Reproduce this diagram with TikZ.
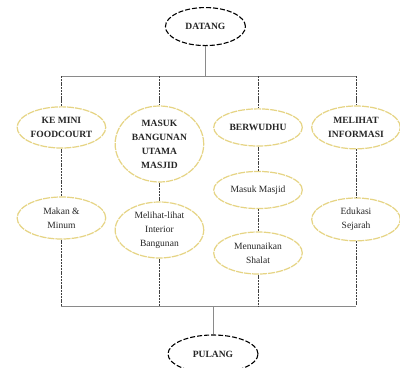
\documentclass[tikz,border=0pt]{standalone}
\usepackage{fontspec}
\setmainfont{Liberation Serif}
\usetikzlibrary{positioning, backgrounds, calc, shapes.geometric}

\definecolor{ringyellow}{HTML}{E6D484}
\definecolor{textgray}{HTML}{262626}
\definecolor{busgray}{HTML}{8A8A8A}

\begin{document}
\begin{tikzpicture}[
    background rectangle/.style={fill=white},
    show background rectangle,
    terminal/.style={draw, ellipse, line width=1.1pt, dash pattern=on 5pt off 2pt, inner sep=0pt,
        minimum width=2.8cm, minimum height=1.33cm, font=\fontsize{9.5}{14}\selectfont\bfseries, text=textgray},
    activity/.style={draw=ringyellow, ellipse, line width=1.2pt, dash pattern=on 7pt off 1pt, inner sep=0pt,
        minimum width=3.1cm, align=center, font=\fontsize{9.5}{14}\selectfont, text=textgray},
    caps/.style={font=\fontsize{9.5}{14}\selectfont\bfseries},
    bus/.style={draw=busgray, line width=0.8pt},
    link/.style={draw=black!75, line width=0.8pt, dash pattern=on 2pt off 0.8pt}
]
    \useasboundingbox (0,0) rectangle (14,-12.845);

    % Start
    \node[terminal] (datang) at (7.19, -0.93) {DATANG};

    % First row
    \node[activity, caps, minimum height=1.44cm] (food) at (2.15, -4.46) {KE MINI\\FOODCOURT};
    \node[activity, caps, minimum height=2.66cm] (masuk) at (5.58, -5.04) {MASUK\\BANGUNAN\\UTAMA\\MASJID};
    \node[activity, caps, minimum height=1.3cm] (wudhu) at (9.03, -4.46) {BERWUDHU};
    \node[activity, caps, minimum height=1.5cm] (info) at (12.46, -4.46) {MELIHAT\\INFORMASI};

    % Second row
    \node[activity, minimum height=1.47cm] (makan) at (2.15, -7.63) {Makan \&\\Minum};
    \node[activity, minimum height=1.96cm] (interior) at (5.58, -8.05) {Melihat-lihat\\Interior\\Bangunan};
    \node[activity, minimum height=1.3cm] (masjid) at (9.03, -6.65) {Masuk Masjid};
    \node[activity, minimum height=1.47cm] (shalat) at (9.03, -8.855) {Menunaikan\\Shalat};
    \node[activity, minimum height=1.5cm] (edukasi) at (12.46, -7.68) {Edukasi\\Sejarah};

    % End
    \node[terminal, minimum width=3.15cm] (pulang) at (7.455, -12.39) {PULANG};

    % Bus lines
    \coordinate (topbus) at (7.19, -2.66);
    \coordinate (lowbus) at (7.455, -10.71);
    \draw[bus] (datang) -- (topbus);
    \draw[bus] (food |- topbus) -- (info |- topbus);
    \draw[bus] (food |- lowbus) -- (info |- lowbus);
    \draw[bus] (lowbus) -- (pulang);

    % Branches
    \draw[link] (food |- topbus) -- (food);
    \draw[link] (food) -- (makan);
    \draw[link] (makan) -- (food |- lowbus);

    \draw[link] (masuk |- topbus) -- (masuk);
    \draw[link] (masuk) -- (interior);
    \draw[link] (interior) -- (masuk |- lowbus);

    \draw[link] (wudhu |- topbus) -- (wudhu);
    \draw[link] (wudhu) -- (masjid);
    \draw[link] (masjid) -- (shalat);
    \draw[link] (shalat) -- (wudhu |- lowbus);

    \draw[link] (info |- topbus) -- (info);
    \draw[link] (info) -- (edukasi);
    \draw[link] (edukasi) -- (info |- lowbus);

\end{tikzpicture}
\end{document}
